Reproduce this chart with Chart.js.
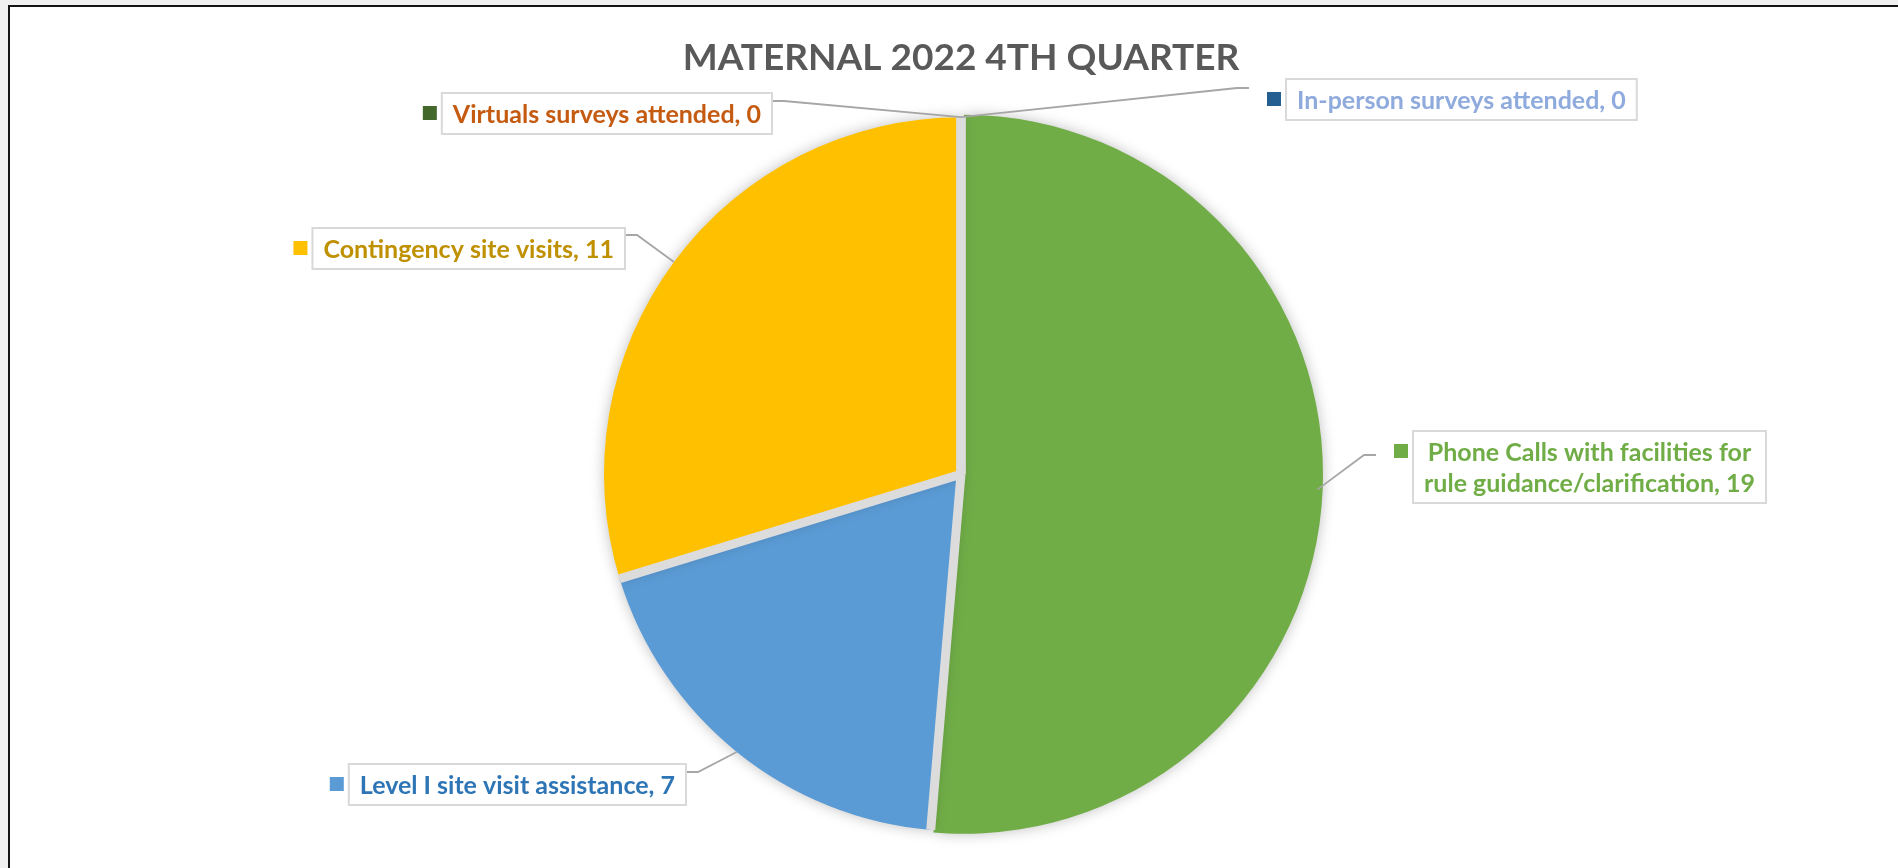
<!DOCTYPE html>
<html>
<head>
<meta charset="utf-8">
<title>Maternal 2022 4th Quarter</title>
<script src="https://cdn.jsdelivr.net/npm/chart.js@4.4.0/dist/chart.umd.min.js"></script>
<style>
    html, body { margin: 0; padding: 0; background: #f0f0f0; overflow: hidden; }
    #frame {
        position: absolute; left: 8px; top: 5px; width: 1890px; height: 863px;
        background: #fff; border-top: 2px solid #141414; border-left: 2px solid #141414;
        box-sizing: border-box;
    }
    #chart { position: absolute; left: 0; top: 0; }
</style>
</head>
<body>
<div id="frame"></div>
<canvas id="chart" width="1898" height="868"></canvas>
<script>
const chartTitle = 'MATERNAL 2022 4TH QUARTER';
const categories = [
    'Phone Calls with facilities for rule guidance/clarification',
    'Level I site visit assistance',
    'Contingency site visits',
    'Virtuals surveys attended',
    'In-person surveys attended'
];
const counts = [19, 7, 11, 0, 0];
const sliceColors = ['#70AD47', '#5B9BD5', '#FFC000', '#43682B', '#255E91'];
const labelColors = ['#70AD47', '#2E75B6', '#BF9000', '#C55A11', '#8FAADC'];

// where Excel put each data label box (side = which side of the pie it is on)
const labelLayout = [
    { side: 'right', x: 1413, top: 431, lineY: 24, wrap: 360 },
    { side: 'left', x: 686, top: 764, lineY: 8 },
    { side: 'left', x: 625, top: 228, lineY: 7 },
    { side: 'left', x: 772, top: 93, lineY: 8 },
    { side: 'right', x: 1286, top: 79, lineY: 9 }
];

const labelFont = 'bold 25px Lato';
const lineHeight = 31;

function wrapText(ctx, text, maxWidth) {
    if (!maxWidth) return [text];
    const words = text.split(' ');
    const lines = [];
    let line = '';
    words.forEach(w => {
        const test = line ? line + ' ' + w : w;
        if (ctx.measureText(test).width > maxWidth && line) {
            lines.push(line);
            line = w;
        } else {
            line = test;
        }
    });
    lines.push(line);
    return lines;
}

// soft shadow under the pie, then grey separators between the slices
const pieShadow = {
    id: 'pieShadow',
    beforeDatasetsDraw(chart) {
        const c = chart.ctx;
        c.save();
        c.shadowColor = 'rgba(0,0,0,0.25)';
        c.shadowBlur = 14;
    },
    afterDatasetsDraw(chart) {
        const c = chart.ctx;
        c.restore();
        const arcs = chart.getDatasetMeta(0).data;
        c.save();
        c.strokeStyle = '#dcdcdc';
        c.lineWidth = 9;
        c.lineCap = 'butt';
        arcs.forEach(arc => {
            const p = arc.getProps(['x', 'y', 'startAngle', 'outerRadius']);
            c.beginPath();
            c.moveTo(p.x, p.y);
            c.lineTo(p.x + Math.cos(p.startAngle) * p.outerRadius,
                     p.y + Math.sin(p.startAngle) * p.outerRadius);
            c.stroke();
        });
        c.restore();
    }
};

// data labels in boxes with legend keys and leader lines
const pieLabels = {
    id: 'pieLabels',
    afterDraw(chart) {
        const ctx = chart.ctx;
        const arcs = chart.getDatasetMeta(0).data;
        ctx.save();
        ctx.font = labelFont;
        arcs.forEach((arc, i) => {
            const lay = labelLayout[i];
            const p = arc.getProps(['x', 'y', 'startAngle', 'endAngle', 'outerRadius']);
            const mid = (p.startAngle + p.endAngle) / 2;
            const ax = p.x + Math.cos(mid) * p.outerRadius;
            const ay = p.y + Math.sin(mid) * p.outerRadius;

            const text = categories[i] + ', ' + counts[i];
            const lines = wrapText(ctx, text, lay.wrap);
            const textW = Math.max(...lines.map(l => ctx.measureText(l).width));
            const boxW = textW + 22;
            const boxH = lines.length * lineHeight + 10;
            const boxX = lay.side === 'right' ? lay.x : lay.x - boxW;
            const boxY = lay.top;
            const keyX = boxX - 19;
            const keyY = boxY + 13;

            // leader line
            const ly = boxY + lay.lineY;
            let ex, bx;
            if (lay.side === 'right') {
                ex = keyX - 18;
                bx = ex - 12;
            } else {
                ex = boxX + boxW;
                bx = ex + 12;
            }
            ctx.strokeStyle = '#a6a6a6';
            ctx.lineWidth = 1.8;
            ctx.beginPath();
            ctx.moveTo(ax, ay);
            ctx.lineTo(bx, ly);
            ctx.lineTo(ex, ly);
            ctx.stroke();

            // box
            ctx.fillStyle = '#ffffff';
            ctx.fillRect(boxX, boxY, boxW, boxH);
            ctx.strokeStyle = '#d9d9d9';
            ctx.lineWidth = 2;
            ctx.strokeRect(boxX, boxY, boxW, boxH);

            // legend key
            ctx.fillStyle = sliceColors[i];
            ctx.fillRect(keyX, keyY, 14, 14);

            // text
            ctx.fillStyle = labelColors[i];
            ctx.textAlign = 'center';
            ctx.textBaseline = 'middle';
            lines.forEach((l, k) => {
                ctx.fillText(l, boxX + boxW / 2, boxY + 5 + lineHeight * (k + 0.5) + 1);
            });
        });
        ctx.restore();
    }
};

new Chart(document.getElementById('chart'), {
    type: 'pie',
    data: {
        labels: categories,
        datasets: [{
            data: counts,
            backgroundColor: sliceColors,
            borderWidth: 0,
            offset: [10, 0, 0, 0, 0]
        }]
    },
    options: {
        responsive: false,
        animation: false,
        radius: 357,
        layout: { padding: { top: 5, bottom: 0, left: 24, right: 0 } },
        plugins: {
            legend: { display: false },
            tooltip: { enabled: false },
            title: {
                display: true,
                text: chartTitle,
                color: '#595959',
                font: { family: 'Lato', size: 37, weight: 'bold' },
                padding: { top: 31, bottom: 0 }
            }
        }
    },
    plugins: [pieShadow, pieLabels]
});
</script>
</body>
</html>
